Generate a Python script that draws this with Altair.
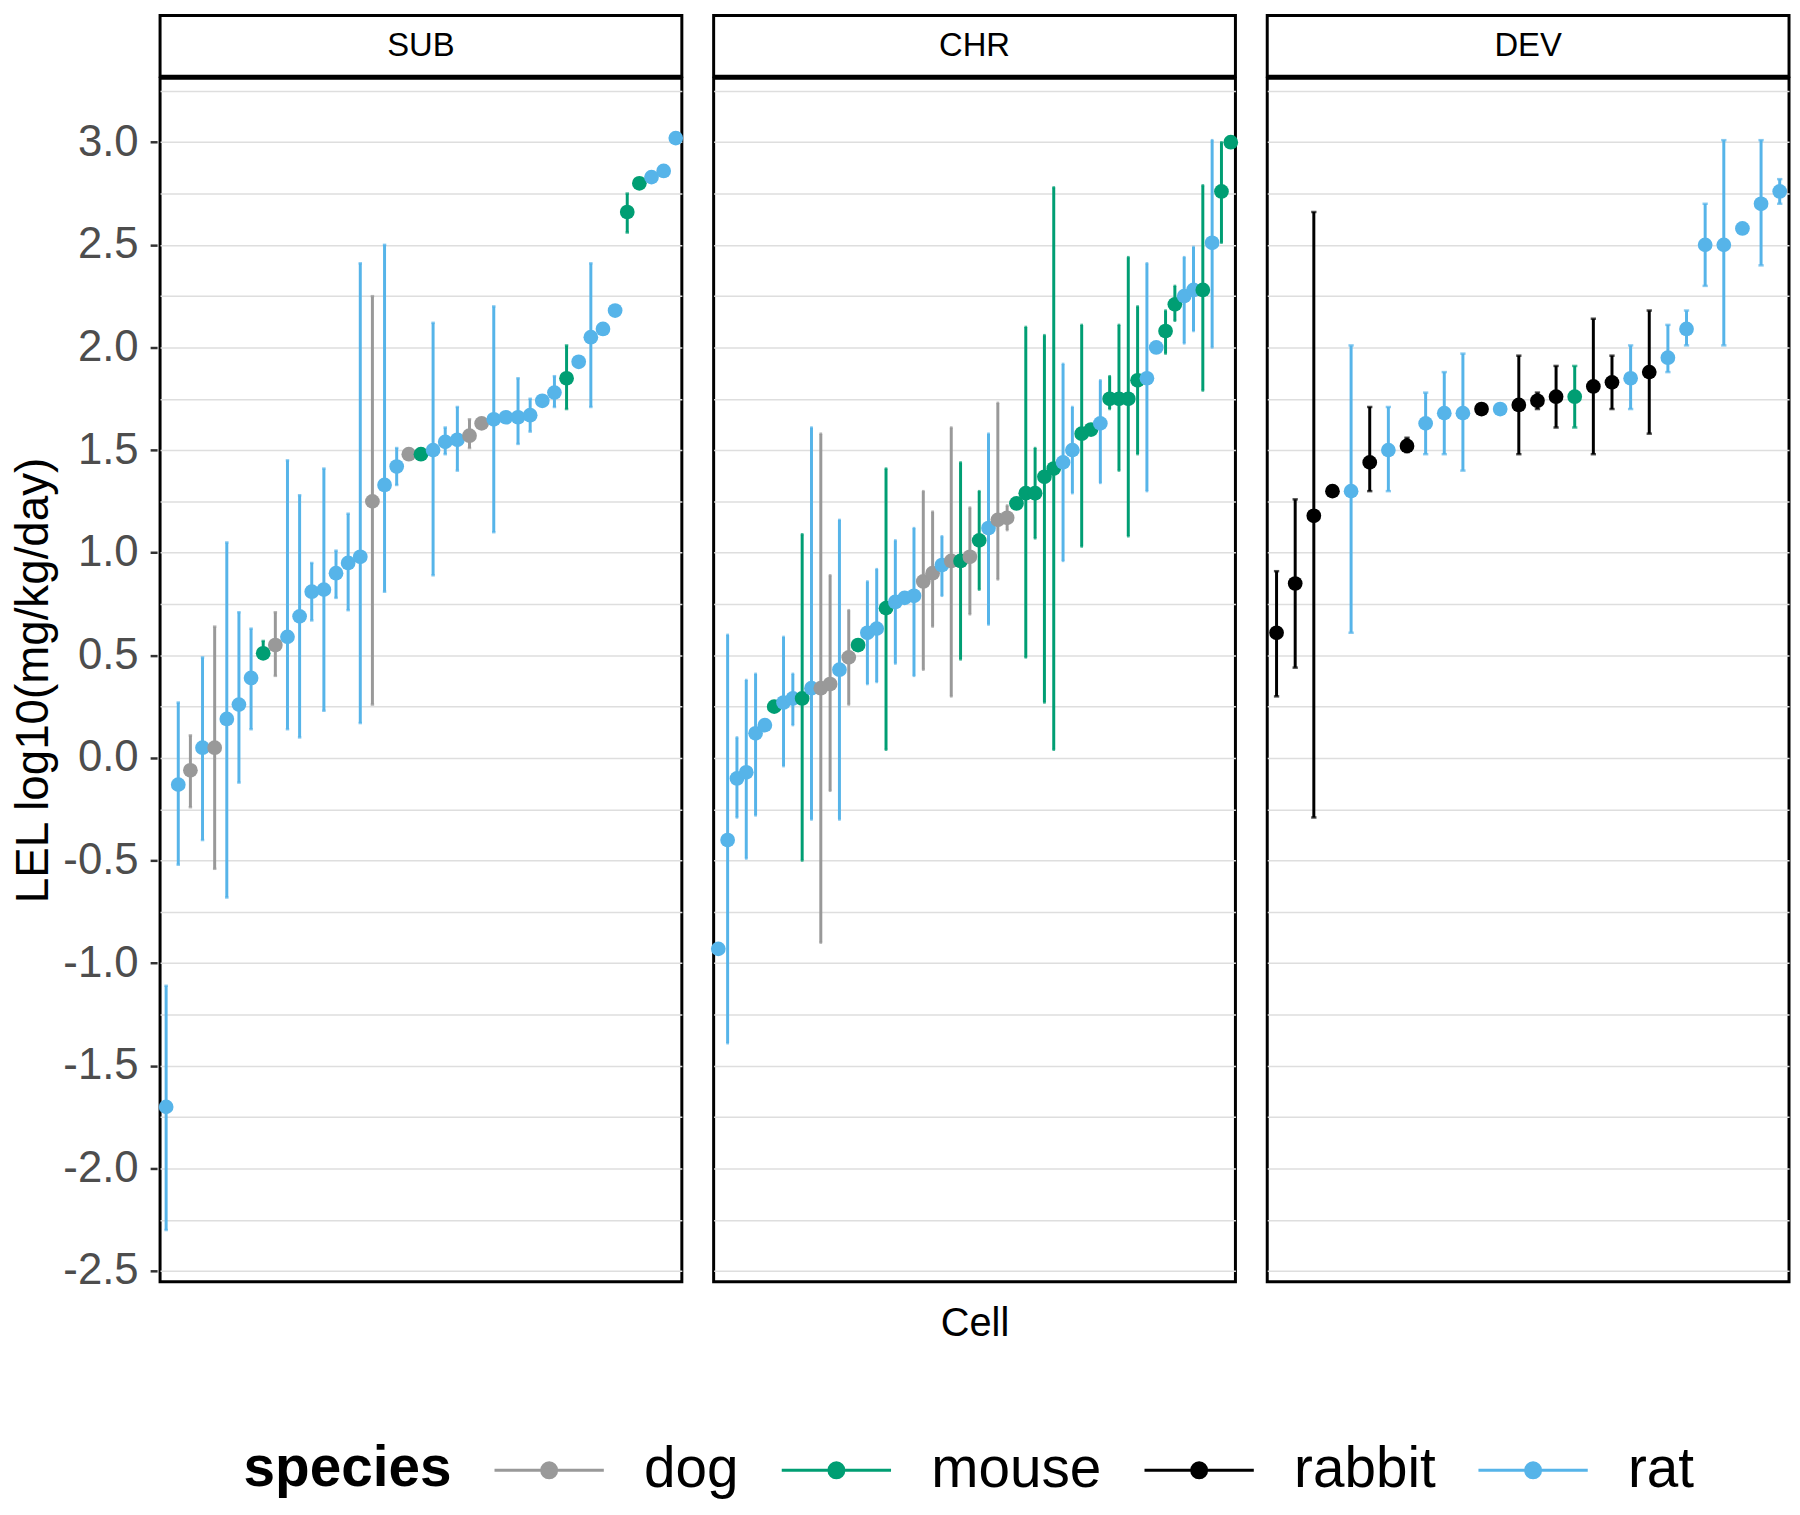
import altair as alt
import numpy as np
import pandas as pd

panels = ["SUB", "CHR", "DEV"]
species_order = ["dog", "mouse", "rabbit", "rat"]
species_colors = ["#999999", "#009E73", "#000000", "#56B4E9"]

sub_species = ["rat", "rat", "dog", "rat", "dog", "rat", "rat", "rat", "mouse", "dog",
               "rat", "rat", "rat", "rat", "rat", "rat", "rat", "dog", "rat", "rat",
               "dog", "mouse", "rat", "rat", "rat", "dog", "dog", "rat", "rat", "rat",
               "rat", "rat", "rat", "mouse", "rat", "rat", "rat", "rat", "mouse", "mouse",
               "rat", "rat", "rat"]
sub_val = [-1.70, -0.13, -0.06, 0.05, 0.05, 0.19, 0.26, 0.39, 0.51, 0.55,
           0.59, 0.69, 0.81, 0.82, 0.90, 0.95, 0.98, 1.25, 1.33, 1.42,
           1.48, 1.48, 1.50, 1.54, 1.55, 1.57, 1.63, 1.65, 1.66, 1.66,
           1.67, 1.74, 1.78, 1.85, 1.93, 2.05, 2.09, 2.18, 2.66, 2.80,
           2.83, 2.86, 3.02]
sub_lo = [-2.30, -0.52, -0.24, -0.40, -0.54, -0.68, -0.12, 0.14, 0.49, 0.40,
          0.14, 0.10, 0.67, 0.23, 0.78, 0.72, 0.17, 0.26, 0.81, 1.33,
          None, None, 0.89, 1.48, 1.40, 1.51, None, 1.10, None, 1.53,
          1.59, None, 1.71, 1.70, None, 1.71, None, None, 2.56, None,
          None, None, None]
sub_hi = [-1.11, 0.27, 0.11, 0.49, 0.64, 1.05, 0.71, 0.63, 0.57, 0.71,
          1.45, 1.28, 0.95, 1.41, 1.01, 1.19, 2.41, 2.25, 2.50, 1.51,
          None, None, 2.12, 1.61, 1.71, 1.65, None, 2.20, None, 1.85,
          1.75, None, 1.86, 2.01, None, 2.41, None, None, 2.75, None,
          None, None, None]

chr_species = ["rat", "rat", "rat", "rat", "rat", "rat", "mouse", "rat", "rat", "mouse",
               "rat", "dog", "dog", "rat", "dog", "mouse", "rat", "rat", "mouse", "rat",
               "rat", "rat", "dog", "dog", "rat", "dog", "mouse", "dog", "mouse", "rat",
               "dog", "dog", "mouse", "mouse", "mouse", "mouse", "mouse", "rat", "rat", "mouse",
               "mouse", "rat", "mouse", "mouse", "mouse", "mouse", "rat", "rat", "mouse", "mouse",
               "rat", "rat", "mouse", "rat", "mouse", "mouse"]
chr_val = [-0.93, -0.40, -0.10, -0.07, 0.12, 0.16, 0.25, 0.27, 0.29, 0.29,
           0.34, 0.34, 0.36, 0.43, 0.49, 0.55, 0.61, 0.63, 0.73, 0.76,
           0.78, 0.79, 0.86, 0.90, 0.94, 0.96, 0.96, 0.98, 1.06, 1.12,
           1.16, 1.17, 1.24, 1.29, 1.29, 1.37, 1.41, 1.44, 1.50, 1.58,
           1.60, 1.63, 1.75, 1.75, 1.75, 1.84, 1.85, 2.00, 2.08, 2.21,
           2.25, 2.28, 2.28, 2.51, 2.76, 3.00]
chr_lo = [None, -1.39, -0.29, -0.49, -0.28, None, None, -0.04, 0.16, -0.50,
          -0.30, -0.90, -0.16, -0.30, 0.26, None, 0.36, 0.37, 0.04, 0.46,
          None, 0.40, 0.43, 0.64, 0.79, 0.30, 0.48, 0.70, 0.82, 0.65,
          0.87, 1.11, None, 0.49, 1.07, 0.27, 0.04, 0.96, 1.29, 1.03,
          None, 1.34, 1.70, 1.40, 1.08, 1.48, 1.30, None, 1.97, 2.13,
          2.02, 2.08, 1.79, 2.00, 2.51, None]
chr_hi = [None, 0.60, 0.10, 0.38, 0.41, None, None, 0.59, 0.41, 1.09,
          1.61, 1.58, 0.89, 1.16, 0.72, None, 0.86, 0.92, 1.41, 1.06,
          None, 1.12, 1.30, 1.20, 1.08, 1.61, 1.44, 1.22, 1.30, 1.58,
          1.73, 1.23, None, 2.10, 1.51, 2.06, 2.78, 1.92, 1.71, 2.11,
          None, 1.84, 1.86, 2.11, 2.44, 2.20, 2.41, None, 2.18, 2.30,
          2.44, 2.49, 2.79, 3.01, 3.00, None]

dev_species = ["rabbit", "rabbit", "rabbit", "rabbit", "rat", "rabbit", "rat", "rabbit", "rat", "rat",
               "rat", "rabbit", "rat", "rabbit", "rabbit", "rabbit", "mouse", "rabbit", "rabbit", "rat",
               "rabbit", "rat", "rat", "rat", "rat", "rat", "rat", "rat"]
dev_val = [0.61, 0.85, 1.18, 1.30, 1.30, 1.44, 1.50, 1.52, 1.63, 1.68,
           1.68, 1.70, 1.70, 1.72, 1.74, 1.76, 1.76, 1.81, 1.83, 1.85,
           1.88, 1.95, 2.09, 2.50, 2.50, 2.58, 2.70, 2.76]
dev_lo = [0.30, 0.44, -0.29, None, 0.61, 1.30, 1.30, 1.49, 1.48, 1.48,
          1.40, None, None, 1.48, 1.70, 1.61, 1.61, 1.48, 1.70, 1.70,
          1.58, 1.88, 2.01, 2.30, 2.01, None, 2.40, 2.70]
dev_hi = [0.91, 1.26, 2.66, None, 2.01, 1.71, 1.71, 1.56, 1.78, 1.88,
          1.97, None, None, 1.96, 1.78, 1.91, 1.91, 2.14, 1.96, 2.01,
          2.18, 2.11, 2.18, 2.70, 3.01, None, 3.01, 2.82]

rows = []
for panel, sp, vals, los, his in [
    ("SUB", sub_species, sub_val, sub_lo, sub_hi),
    ("CHR", chr_species, chr_val, chr_lo, chr_hi),
    ("DEV", dev_species, dev_val, dev_lo, dev_hi),
]:
    n = len(vals)
    for i in range(n):
        rows.append({
            "panel": panel,
            "rank": i + 1,
            "pos": (i + 0.5) / n,
            "species": sp[i],
            "val": vals[i],
            "lo": np.nan if los[i] is None else los[i],
            "hi": np.nan if his[i] is None else his[i],
            "capw": 150.0 / n,
        })
df = pd.DataFrame(rows)

W = 525
H = 1211
FONT = "Liberation Sans"

grid_vals = [round(v, 2) for v in np.arange(-2.5, 3.3, 0.25)]

x_enc = alt.X("pos:Q", scale=alt.Scale(domain=[0, 1], nice=False, zero=False), axis=None)
y_scale = alt.Scale(domain=[-2.552, 3.312], nice=False, zero=False)
y_axis = alt.Axis(
    values=grid_vals,
    labelExpr="datum.value % 0.5 === 0 ? replace(format(datum.value, '.1f'), '\u2212', '-') : ''",
    title="LEL log10(mg/kg/day)",
    labelFontSize=44, labelColor="#4D4D4D", labelFont=FONT, labelPadding=12,
    labelOverlap=False, labelFlush=False,
    tickSize=7, tickWidth=2.5,
    tickColor={"condition": {"test": "datum.value % 0.5 === 0", "value": "#333333"}, "value": "transparent"},
    domain=False,
    titleFontSize=46, titleFontWeight="normal", titleColor="black", titleFont=FONT, titlePadding=5,
    grid=True, gridColor="#DEDEDE", gridWidth=1.5,
)

# legend key: long horizontal line with a dot in the middle
legend_path = ("M-4,0H4M0.55,0A0.55,0.55,0,1,1,-0.55,0A0.55,0.55,0,1,1,0.55,0Z")
legend = alt.Legend(
    orient="none", legendX=84, legendY=1372, direction="horizontal",
    title="species", titleOrient="left", titleFontSize=57, titleFontWeight="bold",
    titleColor="black", titleFont=FONT, titlePadding=69, titleLimit=400,
    labelFontSize=57, labelColor="black", labelFont=FONT, labelOffset=67, labelLimit=400,
    columnPadding=36, symbolType=legend_path, symbolSize=756, symbolStrokeWidth=3,
    symbolOpacity=1,
)
color_enc = alt.Color("species:N", scale=alt.Scale(domain=species_order, range=species_colors),
                      legend=legend)

base = alt.Chart(df)

strip_box = base.transform_filter("datum.rank == 1").mark_rect(
    fill="white", stroke="black", strokeWidth=3
).encode(x=alt.value(0), x2=alt.value(W), y=alt.value(-63), y2=alt.value(-2))

strip_text = base.transform_filter("datum.rank == 1").mark_text(
    fontSize=33, font=FONT, color="black", baseline="middle", align="center"
).encode(x=alt.value(W / 2), y=alt.value(-32), text="panel:N")

bars = base.transform_filter("isValid(datum.lo)").mark_rule(strokeWidth=3).encode(
    x=x_enc, y=alt.Y("lo:Q", scale=y_scale, axis=y_axis), y2="hi:Q", color=color_enc
)
cap_lo = base.transform_filter("isValid(datum.lo)").mark_tick(orient="horizontal", thickness=2.5).encode(
    x=x_enc, y=alt.Y("lo:Q", scale=y_scale, axis=y_axis), color=color_enc,
    size=alt.Size("capw:Q", scale=None, legend=None)
)
cap_hi = base.transform_filter("isValid(datum.hi)").mark_tick(orient="horizontal", thickness=2.5).encode(
    x=x_enc, y=alt.Y("hi:Q", scale=y_scale, axis=y_axis), color=color_enc,
    size=alt.Size("capw:Q", scale=None, legend=None)
)
points = base.mark_circle(size=220, opacity=1).encode(
    x=x_enc, y=alt.Y("val:Q", scale=y_scale, axis=y_axis), color=color_enc
)

layered = alt.layer(strip_box, strip_text, bars, cap_lo, cap_hi, points).properties(width=W, height=H)

chart = layered.facet(
    column=alt.Column("panel:N", sort=panels,
                      header=alt.Header(title="Cell", titleOrient="bottom", labels=False,
                                        titleFontSize=40, titleFont=FONT, titleColor="black",
                                        titleFontWeight="normal", titlePadding=11)),
    spacing=22,
).configure(
    font=FONT, padding={"left": 3, "top": 0, "right": 0, "bottom": 0}
).configure_view(stroke="black", strokeWidth=3)

chart.save("out.html", embed_options={"renderer": "svg", "actions": False})
